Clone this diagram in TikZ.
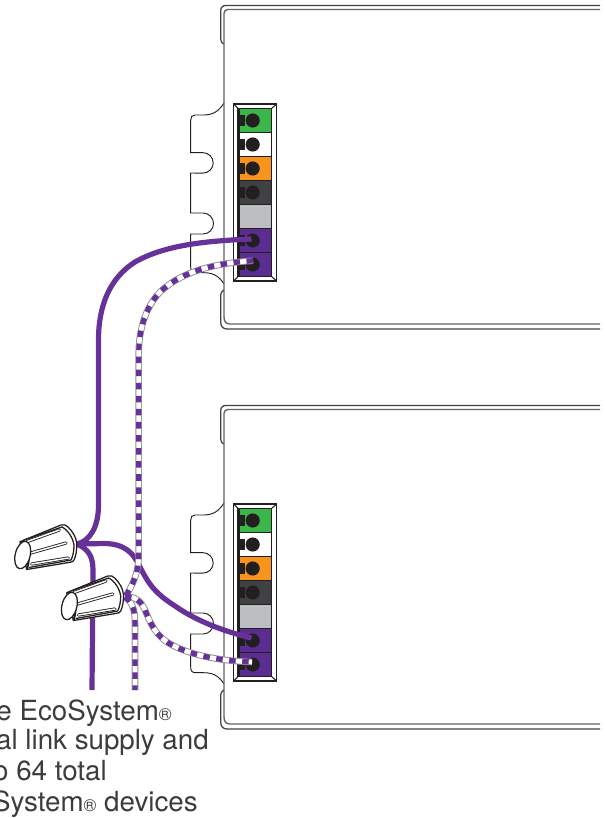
\documentclass[tikz,border=0pt]{standalone}
\usepackage{fontspec}
\setmainfont{TeX Gyre Heros}
\definecolor{wirep}{HTML}{66329A}
\definecolor{tgreen}{HTML}{3CB54A}
\definecolor{torange}{HTML}{F7941E}
\definecolor{tdark}{HTML}{414042}
\definecolor{tgrey}{HTML}{BCBEC0}
\definecolor{tpurple}{HTML}{5C2D91}
\definecolor{ink}{HTML}{231F20}
\definecolor{txt}{HTML}{3C3C3E}
\tikzset{
 outerline/.style={draw=ink!85,line width=0.95pt},
 innerline/.style={draw=ink!70,line width=1.05pt},
 lobeline/.style={draw=ink,line width=0.7pt},
 framebox/.style={draw=ink,line width=0.8pt},
 solidwire/.style={draw=wirep,line width=3.9pt},
 stripeA/.style={draw=ink!50,line width=4.9pt},
 stripeB/.style={draw=white,line width=3.5pt},
 stripeC/.style={draw=wirep,line width=3.9pt,dash pattern=on 4.9pt off 4.9pt},
 nutline/.style={draw=ink,line width=0.95pt,line join=round},
 caption/.style={anchor=base east,inner sep=0pt,text=txt,font=\fontsize{20.8}{24}\selectfont},
}
\newcommand{\driverbox}{%
  \draw[outerline] (600,5.5) -- (226,5.5) .. controls (222.5,5.5) and (220.7,7.5) .. (220.7,11)
    -- (220.7,39) .. controls (220.7,42) and (222,43.5) .. (224,44);
  \draw[innerline] (600,9.5) -- (228,9.5) .. controls (225.5,9.5) and (224,11) .. (224,13.5) -- (224,103);
  \draw[lobeline] (224,103) .. controls (219,111) and (213,115) .. (204,115) -- (195,115)
    .. controls (192,115) and (190.7,117) .. (190.7,120) -- (190.7,152.7) -- (203,152.7)
    arc[start angle=90,end angle=-90,radius=10.2*0.75pt] -- (190.7,173) -- (190.7,213) -- (203,213)
    arc[start angle=90,end angle=-90,radius=10.5*0.75pt] -- (190.7,234) -- (190.7,267)
    .. controls (190.7,271) and (192,272.7) .. (196,272.7) -- (204,272.7)
    .. controls (213,272.7) and (219,276) .. (224,284);
  \draw[innerline] (224,103) -- (224,284) -- (224,317) .. controls (224,321.5) and (226,324) .. (230,324) -- (600,324);
  \draw[outerline] (224,290) .. controls (222,291) and (220.7,293) .. (220.7,295) -- (220.7,322)
    .. controls (220.7,326.5) and (223,329) .. (227,329) -- (600,329);
  \draw[framebox,fill=white] (233.5,104) rectangle (276.7,281);
  \fill[tgreen] (238,108.3) rectangle (271.7,132.3);
  \fill[white] (238,132.3) rectangle (271.7,156.3);
  \fill[torange] (238,156.3) rectangle (271.7,180.3);
  \fill[tdark] (238,180.3) rectangle (271.7,204.3);
  \fill[tgrey] (238,204.3) rectangle (271.7,228.3);
  \fill[tpurple] (238,228.3) rectangle (271.7,252.3);
  \fill[tpurple] (238,252.3) rectangle (271.7,276.7);
  \draw[framebox] (238,108.3) rectangle (271.7,276.7);
  \foreach \yy in {132.3,156.3,180.3,204.3,228.3,252.3}
    \draw[ink,line width=0.5pt] (238,\yy) -- (271.7,\yy);
  \draw[framebox] (233.5,104) -- (238,108.3) (276.7,104) -- (271.7,108.3) (233.5,281) -- (238,276.7) (276.7,281) -- (271.7,276.7);
  \draw[ink,line width=0.7pt] (239.5,108.3) -- (239.5,276.7);
  \foreach \yy in {120.5,144.5,168.5,192.5,240.5,264.5}{
    \fill[ink] (238.3,\yy-5.5) rectangle (245,\yy+5.5);
    \fill[ink] (252.7,\yy) circle[radius=5.3pt];
  }
}
\newcommand{\wirenut}{%
  \draw[nutline,fill=white] (20,541.7) -- (61,525) .. controls (64,524) and (66,525) .. (68,527)
    .. controls (73,532) and (76,537) .. (76.7,543) .. controls (77,550) and (76,556) .. (74,560)
    .. controls (73.5,561.5) and (72,562) .. (70,562.3) -- (26.7,569.5) -- cycle;
  \draw[nutline] (24,540) -- (62,527) .. controls (68,530) and (73,538) .. (74,545) .. controls (74,551) and (73,556) .. (71,560) -- (29,567.5);
  \foreach \xa/\ya/\xb/\yb in {26.7/541.7/59.3/530, 30.7/553/66/543, 31.7/564/68.3/558}{
    \draw[ink,line width=2.4pt,line cap=round] (\xa,\ya) -- (\xb,\yb);
    \draw[white,line width=1.1pt,line cap=round] (\xa,\ya) -- (\xb,\yb);
  }
  \draw[ink,line width=1.5pt] (22,541) .. controls (28,546) and (31,556) .. (27,569);
  \draw[nutline,fill=white] (22.7,555) circle[x radius=5.6pt,y radius=10.5pt,rotate=-14];
}
\begin{document}
\begin{tikzpicture}[x=0.75pt,y=-0.75pt]
\useasboundingbox (0,0) rectangle (605,818);
\coordinate (solidA) at (251.5,239);
\coordinate (stripeTopEnd) at (253,260.7);
\coordinate (solidB) at (251.5,638);
\coordinate (stripeBotEnd) at (252,662);
\coordinate (nutOne) at (77,544);
\coordinate (nutTwo) at (125,597);
\coordinate (freeSolid) at (92,690);
\coordinate (freeStripe) at (135,690);

\begin{scope}
 \driverbox
\end{scope}
\begin{scope}[shift={(0,400)}]
 \driverbox
\end{scope}

% solid wires
\draw[solidwire] (solidA) .. controls (205,241) and (165,245) .. (135,262)
   .. controls (110,278) and (98.5,305) .. (98.5,340) -- (98.5,505)
   .. controls (98.5,527) and (90,541) .. (nutOne);
\draw[solidwire] (nutOne) -- (105,543.5) .. controls (125,544) and (133,553) .. (139,565)
   .. controls (149,585) and (155,593) .. (175,606) .. controls (195,620) and (222,631) .. (solidB);
\draw[solidwire] (nutOne) .. controls (88,549) and (93,556) .. (93,570) -- (freeSolid);

% striped wires
\foreach \st in {stripeA,stripeB,stripeC}{
 \draw[\st] (stripeTopEnd) .. controls (205,264) and (178,275) .. (160,292)
   .. controls (145,308) and (138.7,330) .. (138.7,355) -- (138.7,555)
   .. controls (138.7,572) and (133,585) .. (nutTwo);
 \draw[\st] (nutTwo) .. controls (135,596) and (141,601) .. (145,610)
   .. controls (150,622) and (155,636) .. (172,645) .. controls (195,657) and (225,661) .. (stripeBotEnd);
 \draw[\st] (nutTwo) .. controls (131,601) and (135,608) .. (135,622) -- (freeStripe);
}

% wire nuts
\begin{scope}
 \wirenut
\end{scope}
\begin{scope}[shift={(46.7,51)}]
 \wirenut
\end{scope}

% caption
\node[caption] (capA) at (172,720) {e EcoSystem{\fontsize{13}{14}\selectfont ®}};
\node[caption] (capB) at (209,749) {al link supply and};
\node[caption] (capC) at (107,780.5) {o 64 total};
\node[caption] (capD) at (198,811.5) {System{\fontsize{13}{14}\selectfont ®} devices};
\end{tikzpicture}
\end{document}
